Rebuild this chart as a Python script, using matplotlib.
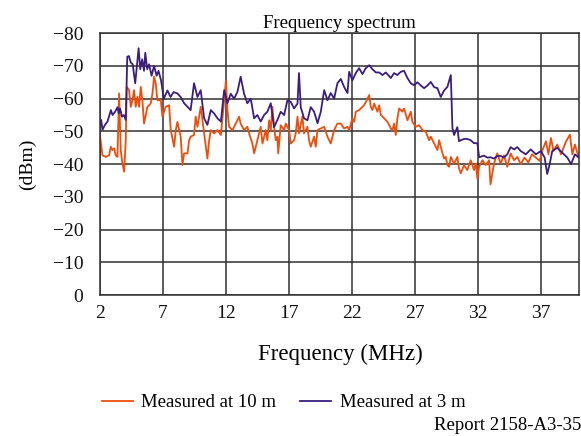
import matplotlib
matplotlib.use("Agg")
import matplotlib.pyplot as plt

plt.rcParams["font.family"] = ["Liberation Serif", "DejaVu Serif"]

# Measured at 3 m (purple trace)
freq_3m = [2.0, 2.1, 2.2, 2.4, 2.6, 2.87, 3.0, 3.2, 3.4, 3.5, 3.6, 3.75, 3.9, 4.05,
           4.17, 4.3, 4.45, 4.6, 4.8, 5.07, 5.2, 5.35, 5.5, 5.6, 5.75, 5.9, 6.1, 6.3,
           6.5, 6.65, 6.85, 7.07, 7.36, 7.6, 7.85, 8.15, 8.41, 8.68, 8.95, 9.2, 9.47,
           9.74, 10.0, 10.27, 10.53, 10.8, 11.06, 11.33, 11.6, 11.86, 12.12, 12.38,
           12.65, 12.91, 13.17, 13.44, 13.7, 13.97, 14.24, 14.5, 14.76, 15.03, 15.29,
           15.56, 15.82, 16.09, 16.35, 16.62, 16.88, 17.15, 17.41, 17.68, 17.8, 17.94,
           18.2, 18.47, 18.73, 19.0, 19.27, 19.53, 19.8, 20.06, 20.32, 20.59, 20.85,
           21.12, 21.38, 21.65, 21.78, 22.04, 22.31, 22.57, 22.84, 23.1, 23.37, 23.63,
           23.9, 24.16, 24.43, 24.69, 25.09, 25.35, 25.61, 25.88, 26.14, 26.41, 26.67,
           26.94, 27.2, 27.47, 27.73, 28.0, 28.26, 28.53, 28.79, 29.05, 29.32, 29.58,
           29.85, 29.98, 30.11, 30.37, 30.5, 30.64, 30.9, 31.16, 31.43, 31.69, 31.96,
           32.1, 32.48, 32.75, 33.0, 33.28, 33.54, 33.8, 34.07, 34.33, 34.6, 34.87,
           35.13, 35.4, 35.8, 36.2, 36.6, 37.0, 37.3, 37.5, 37.7, 37.9, 38.3, 38.7,
           39.1, 39.4, 39.7, 40.0]
level_3m = [-51.5, -53.5, -50.5, -52, -53, -56.5, -55, -56, -57.4, -55.5, -57, -54.5, -55, -53.5,
            -72.8, -73, -71, -70.5, -64.7, -75.4, -69, -72, -68.5, -74, -69, -70.5, -67, -70,
            -67, -68.5, -65.6, -60, -62.5, -60.5, -62, -61.6, -60.5, -58.6, -57.5, -56.5, -64.7,
            -60.5, -62.6, -54, -52, -56.5, -55.5, -54, -53, -62.6, -58.6, -61.5,
            -60, -62, -66.7, -61.5, -58.6, -60, -54, -55, -53, -55, -56,
            -58.6, -51.3, -53.5, -56, -55, -59.5, -59, -57, -58.5, -67.8, -57.4,
            -54, -53.4, -57.4, -56, -52.5, -56, -62.6, -59.5, -61.7, -60, -64.7,
            -66, -63.6, -61.7, -68.2, -65.6, -67.8, -69.3, -67.5, -69.3, -70.2, -69,
            -68, -68, -67.2, -68, -66.3, -67.8, -67.2, -68.2, -68.5, -66.3, -64.7,
            -64.1, -65, -64, -63.2, -64, -65.1, -63.5, -63.2, -60.5, -62.5, -63.6,
            -67.2, -51, -48.9, -51.3, -47, -47.3, -47.7, -47.7, -47.3, -46.4, -46.4,
            -42.1, -42.6, -42, -42.1, -41.7, -42.5, -42.5, -42, -43, -45.2, -44.5,
            -45.2, -44, -43, -44.5, -43, -44, -42, -37, -40, -44, -45, -43.5,
            -42, -40, -43, -42]

# Measured at 10 m (orange trace)
freq_10m = [2.0, 2.2, 2.46, 2.73, 2.86, 2.99, 3.12, 3.25, 3.39, 3.52, 3.65, 3.78, 3.92,
            4.05, 4.13, 4.31, 4.45, 4.58, 4.71, 4.84, 4.98, 5.11, 5.24, 5.37, 5.5, 5.77,
            6.03, 6.17, 6.3, 6.43, 6.56, 6.83, 6.96, 7.22, 7.49, 7.62, 7.89, 8.02, 8.15,
            8.41, 8.55, 8.68, 8.95, 9.08, 9.2, 9.47, 9.6, 9.74, 10.0, 10.27, 10.53, 10.67,
            10.8, 11.06, 11.33, 11.6, 11.86, 12.0, 12.12, 12.25, 12.52, 12.78, 12.91,
            13.04, 13.17, 13.44, 13.7, 13.84, 14.1, 14.24, 14.5, 14.76, 14.9, 15.16,
            15.29, 15.43, 15.56, 15.69, 15.82, 15.96, 16.09, 16.15, 16.35, 16.62, 16.75,
            17.01, 17.15, 17.41, 17.54, 17.68, 17.8, 18.07, 18.2, 18.47, 18.6, 18.73,
            19.0, 19.13, 19.27, 19.53, 19.8, 20.06, 20.32, 20.59, 20.85, 21.12, 21.38,
            21.65, 21.78, 22.04, 22.18, 22.31, 22.57, 22.84, 22.97, 23.24, 23.37, 23.5,
            23.63, 23.77, 24.03, 24.16, 24.3, 24.56, 24.83, 25.09, 25.22, 25.35, 25.48,
            25.61, 25.75, 26.01, 26.14, 26.41, 26.67, 26.8, 27.07, 27.33, 27.6, 27.86,
            28.13, 28.26, 28.53, 28.79, 28.92, 29.19, 29.32, 29.45, 29.58, 29.72, 29.85,
            30.11, 30.37, 30.5, 30.64, 30.9, 31.16, 31.43, 31.69, 31.83, 31.96, 32.1,
            32.36, 32.62, 32.89, 33.0, 33.28, 33.54, 33.8, 34.07, 34.33, 34.6, 34.87,
            35.13, 35.4, 35.7, 36.0, 36.3, 36.6, 36.9, 37.1, 37.4, 37.6, 37.8, 38.0,
            38.3, 38.6, 39.0, 39.3, 39.5, 39.7, 40.0]
level_10m = [-48.9, -42.7, -42.2, -42.7, -45.3, -44.3, -44.8, -42.7, -42.2, -61.6, -44.3, -40.3, -37.7,
             -47.3, -63.6, -62.6, -57.5, -59.5, -62.6, -57.5, -60.6, -57.5, -63.6, -59.5, -52.4, -57.5,
             -58.5, -61.6, -66.7, -64.6, -59.5, -59.5, -54.5, -57.5, -58, -50.4, -45.3, -50.4, -52.9,
             -48.4, -39.7, -43.3, -43.3, -47.3, -48.4, -48.9, -54.5, -51.4, -57.5, -49.4, -41.7, -47.3,
             -50.4, -49.4, -50.4, -48.9, -59.5, -65.6, -56.5, -51.4, -50.4, -52.4, -53.4,
             -54.5, -52.4, -50.4, -51.4, -49.4, -46.3, -43.3, -47.3, -51.4, -46.3, -50.4,
             -47.3, -53.4, -50.4, -57.5, -51.4, -47.3, -48.4, -43.3, -51.9, -50.4, -52.4,
             -50.4, -46.3, -47.3, -49.4, -54.5, -49.4, -54.5, -49.4, -51.4, -47.3, -45.3,
             -48.4, -45.3, -50.4, -50.9, -51.4, -48.4, -46.3, -50.4, -52.4, -52.4, -50.9,
             -51.4, -50.4, -54, -52.9, -56, -56.5, -57.5, -58, -60, -61.1, -57.5,
             -56.5, -58.5, -56, -58, -55, -54, -52.9, -50.9, -50.4, -52.4, -48.9,
             -54, -57, -56, -57, -53.4, -56, -52.9, -51.4, -51.9, -50.4, -49.9,
             -47.3, -48.4, -46.3, -44.3, -47.3, -43.3, -41.7, -42.2, -39.7, -39.2, -42.2,
             -40.2, -42.2, -38.7, -37.2, -39.7, -38.2, -41.2, -38.2, -40.2, -35.6, -39.2,
             -41.2, -39.7, -41.2, -33.8, -40.2, -43.3, -40.2, -42.7, -39.2, -43.3, -41.2,
             -42.2, -40, -42, -40.5, -43, -42, -41, -44, -47, -43, -48, -44,
             -46, -43, -47, -49, -43, -46, -42]

y_ticks = [0, -10, -20, -30, -40, -50, -60, -70, -80]
x_ticks = [2, 7, 12, 17, 22, 27, 32, 37]

fig = plt.figure(figsize=(5.81, 4.36), dpi=100)
ax = fig.add_axes([0.172, 0.323, 0.824, 0.601])

ax.plot(freq_10m, level_10m, color="#EE4E0C", lw=1.3, label="Measured at 10 m")
ax.plot(freq_3m, level_3m, color="#3A1E7E", lw=1.3, label="Measured at 3 m")

ax.set_xlim(2, 40)
ax.set_ylim(0, -80)
ax.set_xticks(x_ticks)
ax.set_yticks(y_ticks)
ax.grid(True, color="#303030", lw=1.1)
ax.set_axisbelow(True)
for s in ax.spines.values():
    s.set_color("#303030")
    s.set_linewidth(1.1)
ax.tick_params(length=0, labelsize=14, colors="#111111")
ax.tick_params(axis="x", pad=7)
ax.tick_params(axis="y", pad=12)

ax.set_title("Frequency spectrum", fontsize=13.5, pad=4)
ax.set_ylabel("(dBm)", fontsize=14, labelpad=12)
fig.text(0.585, 0.187, "Frequency (MHz)", fontsize=16.5, ha="center", va="center")

fig.legend(loc="center", bbox_to_anchor=(0.488, 0.076), ncol=2, frameon=False,
           fontsize=13.5, handlelength=1.65, columnspacing=1.3, handletextpad=0.45)
fig.text(1.0, 0.024, "Report 2158-A3-35", fontsize=13.5, ha="right", va="center")

fig.savefig("out.png", dpi=100)
